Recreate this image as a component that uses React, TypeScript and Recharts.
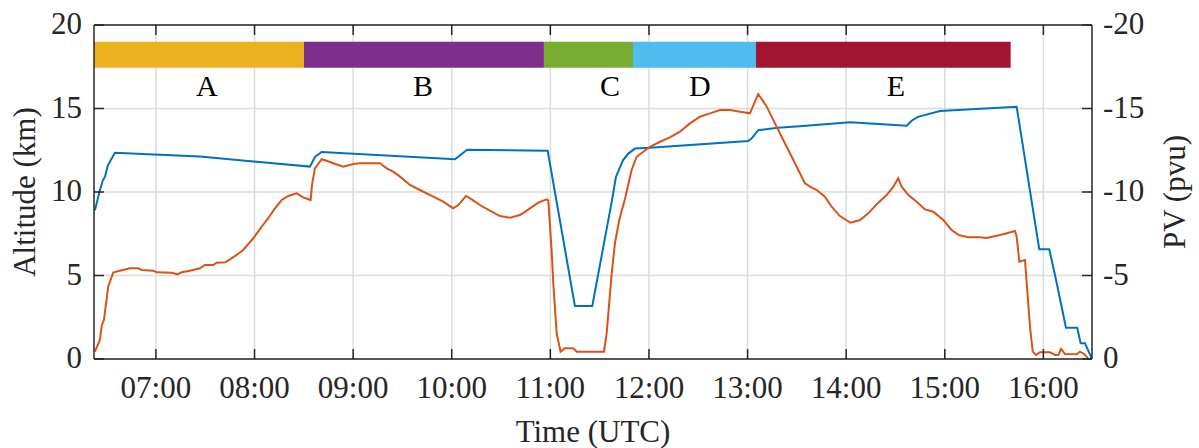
import React from "react";
import {
  LineChart,
  Line,
  XAxis,
  YAxis,
  CartesianGrid,
  ReferenceArea,
  ReferenceDot,
} from "recharts";

// altitude track: time in decimal hours (UTC), altitude in km
const altTime = [
  6.381, 6.432, 6.462, 6.483, 6.513, 6.584, 7.446, 8.562, 8.613, 8.681, 10.032,
  10.157, 10.973, 11.249, 11.425, 11.625, 11.665, 11.736, 11.79, 11.858, 12.01,
  13.007, 13.04, 13.108, 13.308, 13.562, 14.039, 14.614, 14.664, 14.728,
  14.951, 15.729, 15.958, 16.059, 16.118, 16.185, 16.229, 16.343, 16.378,
  16.422, 16.49,
];
const altKm = [
  8.9, 10.1, 10.7, 10.9, 11.6, 12.35, 12.12, 11.52, 12.1, 12.4, 11.96, 12.53,
  12.47, 3.17, 3.17, 9.5, 10.9, 11.9, 12.3, 12.6, 12.65, 13.05, 13.2, 13.7,
  13.85, 13.95, 14.17, 13.97, 14.27, 14.5, 14.85, 15.1, 6.57, 6.57, 5.03, 3.13,
  1.87, 1.87, 0.94, 0.94, 0.04,
];

// potential vorticity along the track (pvu)
const pvTime = [
  6.381, 6.432, 6.452, 6.473, 6.516, 6.567, 6.635, 6.736, 6.82, 6.855, 6.973,
  7.007, 7.159, 7.216, 7.261, 7.345, 7.446, 7.497, 7.581, 7.616, 7.7, 7.751,
  7.818, 7.885, 7.987, 8.072, 8.139, 8.207, 8.275, 8.342, 8.427, 8.494, 8.569,
  8.585, 8.613, 8.681, 8.731, 8.798, 8.9, 9.001, 9.069, 9.272, 9.34, 9.407,
  9.475, 9.576, 9.677, 9.812, 9.914, 10.015, 10.066, 10.144, 10.202, 10.286,
  10.387, 10.489, 10.59, 10.692, 10.793, 10.877, 10.962, 10.979, 11.013,
  11.03, 11.064, 11.104, 11.148, 11.232, 11.267, 11.544, 11.571, 11.622,
  11.655, 11.699, 11.757, 11.824, 11.875, 11.942, 12.01, 12.112, 12.213,
  12.314, 12.416, 12.517, 12.619, 12.72, 12.822, 12.923, 13.024, 13.108,
  13.194, 13.278, 13.396, 13.464, 13.531, 13.582, 13.633, 13.701, 13.785,
  13.853, 13.937, 14.046, 14.14, 14.224, 14.326, 14.411, 14.478, 14.528,
  14.563, 14.63, 14.715, 14.799, 14.883, 14.985, 15.07, 15.137, 15.238,
  15.357, 15.425, 15.593, 15.712, 15.729, 15.756, 15.813, 15.831, 15.864,
  15.892, 15.925, 15.966, 16.067, 16.118, 16.151, 16.179, 16.219, 16.338,
  16.371, 16.412, 16.455,
];
const pvValue = [
  -0.44, -1.14, -2.04, -2.34, -4.33, -5.17, -5.29, -5.43, -5.43, -5.33, -5.29,
  -5.19, -5.17, -5.07, -5.19, -5.29, -5.43, -5.63, -5.63, -5.77, -5.79, -5.97,
  -6.23, -6.53, -7.23, -7.92, -8.43, -9.02, -9.52, -9.76, -9.92, -9.68, -9.52,
  -10.52, -11.42, -11.96, -11.87, -11.72, -11.52, -11.68, -11.72, -11.72,
  -11.42, -11.22, -10.92, -10.42, -10.12, -9.72, -9.42, -9.02, -9.22, -9.76,
  -9.56, -9.22, -8.88, -8.56, -8.46, -8.62, -9.02, -9.36, -9.56, -9.5, -6.5,
  -4.53, -1.54, -0.44, -0.64, -0.64, -0.44, -0.44, -1.54, -5.13, -6.93, -8.32,
  -9.6, -11.32, -12.11, -12.41, -12.71, -13.01, -13.27, -13.61, -14.11,
  -14.51, -14.71, -14.91, -14.91, -14.81, -14.71, -15.87, -15.11, -14.11,
  -12.71, -11.92, -11.12, -10.52, -10.32, -10.12, -9.72, -9.12, -8.56, -8.16,
  -8.32, -8.72, -9.36, -9.82, -10.32, -10.82, -10.32, -9.82, -9.42, -8.96,
  -8.82, -8.32, -7.72, -7.43, -7.29, -7.29, -7.25, -7.47, -7.66, -7.32, -5.83,
  -5.93, -4.53, -1.93, -0.44, -0.24, -0.4, -0.4, -0.24, -0.24, -0.6, -0.3,
  -0.28, -0.44, -0.3, -0.04,
];

// flight phases
const phaseNames = ["A", "B", "C", "D", "E"];
const phaseStart = [6.372, 8.501, 10.935, 11.838, 13.085];
const phaseEnd = [8.501, 10.935, 11.838, 13.085, 15.668];
const phaseLabelTime = [7.517, 9.708, 11.604, 12.517, 14.505];

const hourTicks = [7, 8, 9, 10, 11, 12, 13, 14, 15, 16];
const altTicks = [0, 5, 10, 15, 20];
const pvTicks = [0, -5, -10, -15, -20];

const timeDomain: [number, number] = [6.372, 16.493];

const phaseColors = ["#EDB120", "#7E2F8E", "#77AC30", "#4DBEEE", "#A2142F"];
const FONT = "Liberation Serif, serif";
const INK = "#262626";
const TICK_LEN = 10;
const FS = 31;

const txt: React.CSSProperties = { fontFamily: FONT, fontSize: FS, fill: INK };

const altData = altTime.map((t, i) => ({ t, alt: altKm[i] }));
const pvData = pvTime.map((t, i) => ({ t, pv: pvValue[i] }));

const hhmm = (h: number) => `${String(Math.floor(h)).padStart(2, "0")}:00`;

const BottomTick = (p: any) => (
  <g>
    <line x1={p.x} y1={p.y} x2={p.x} y2={p.y - TICK_LEN} stroke={INK} strokeWidth={1.5} />
    <text x={p.x} y={p.y + 39} textAnchor="middle" style={txt}>
      {hhmm(p.payload.value)}
    </text>
  </g>
);

const TopTick = (p: any) => (
  <line x1={p.x} y1={p.y} x2={p.x} y2={p.y + TICK_LEN} stroke={INK} strokeWidth={1.5} />
);

const LeftTick = (p: any) => (
  <g>
    <line x1={p.x} y1={p.y} x2={p.x + TICK_LEN} y2={p.y} stroke={INK} strokeWidth={1.5} />
    <text x={p.x - 12} y={p.y + 9} textAnchor="end" style={txt}>
      {p.payload.value}
    </text>
  </g>
);

const RightTick = (p: any) => (
  <g>
    <line x1={p.x} y1={p.y} x2={p.x - TICK_LEN} y2={p.y} stroke={INK} strokeWidth={1.5} />
    <text x={p.x + 11} y={p.y + 9} textAnchor="start" style={txt}>
      {p.payload.value}
    </text>
  </g>
);

const PhaseLabel = (name: string) => (p: any) => (
  <text x={p.cx} y={p.cy} dy={10} textAnchor="middle" style={{ ...txt, fontSize: 30, fill: "#000" }}>
    {name}
  </text>
);

const App: React.FC = () => {
  return (
    <div style={{ position: "absolute", left: 0, top: 0, fontFamily: FONT }}>
      <LineChart width={1199} height={448} margin={{ top: 0, right: 0, bottom: 0, left: 0 }}>
        <CartesianGrid
          xAxisId="time"
          yAxisId="alt"
          stroke="#dcdcdc"
          strokeWidth={1.5}
          horizontalValues={altTicks}
          verticalValues={hourTicks}
        />
        <XAxis
          xAxisId="top"
          orientation="top"
          type="number"
          dataKey="t"
          domain={timeDomain}
          allowDataOverflow
          ticks={hourTicks}
          interval={0}
          height={25}
          tickSize={0}
          tickMargin={0}
          tickLine={false}
          tick={TopTick}
          axisLine={{ stroke: INK, strokeWidth: 1.5 }}
        />
        <XAxis
          xAxisId="time"
          type="number"
          dataKey="t"
          domain={timeDomain}
          allowDataOverflow
          ticks={hourTicks}
          interval={0}
          height={89}
          tickSize={0}
          tickMargin={0}
          tickLine={false}
          tick={BottomTick}
          axisLine={{ stroke: INK, strokeWidth: 1.5 }}
          label={(props: any) => {
            const vb = props.viewBox || { x: 94, y: 359, width: 998 };
            return (
              <text x={vb.x + vb.width / 2} y={vb.y + 83} textAnchor="middle" style={txt}>
                Time (UTC)
              </text>
            );
          }}
        />
        <YAxis
          yAxisId="alt"
          orientation="left"
          type="number"
          domain={[0, 20]}
          ticks={altTicks}
          interval={0}
          width={94}
          tickSize={0}
          tickMargin={0}
          tickLine={false}
          tick={LeftTick}
          axisLine={{ stroke: INK, strokeWidth: 1.5 }}
          label={(props: any) => {
            const vb = props.viewBox || { x: 0, y: 25, height: 334 };
            const cx = vb.x + 35;
            const cy = vb.y + vb.height / 2;
            return (
              <text x={cx} y={cy} transform={`rotate(-90, ${cx}, ${cy})`} textAnchor="middle" style={txt}>
                Altitude (km)
              </text>
            );
          }}
        />
        <YAxis
          yAxisId="pv"
          orientation="right"
          type="number"
          domain={[-20, 0]}
          reversed
          ticks={pvTicks}
          interval={0}
          width={107}
          tickSize={0}
          tickMargin={0}
          tickLine={false}
          tick={RightTick}
          axisLine={{ stroke: INK, strokeWidth: 1.5 }}
          label={(props: any) => {
            const vb = props.viewBox || { x: 1092, y: 25, height: 334 };
            const cx = vb.x + 93;
            const cy = vb.y + vb.height / 2;
            return (
              <text x={cx} y={cy} transform={`rotate(-90, ${cx}, ${cy})`} textAnchor="middle" style={txt}>
                PV (pvu)
              </text>
            );
          }}
        />

        {phaseNames.map((name, i) => (
          <ReferenceArea
            key={`bar-${name}`}
            xAxisId="time"
            yAxisId="alt"
            x1={phaseStart[i]}
            x2={phaseEnd[i]}
            y1={17.44}
            y2={19.0}
            fill={phaseColors[i]}
            fillOpacity={1}
            stroke="none"
          />
        ))}
        {phaseNames.map((name, i) => (
          <ReferenceDot
            key={`lbl-${name}`}
            xAxisId="time"
            yAxisId="alt"
            x={phaseLabelTime[i]}
            y={16.35}
            r={0}
            shape={PhaseLabel(name)}
          />
        ))}

        <Line
          data={altData}
          xAxisId="time"
          yAxisId="alt"
          dataKey="alt"
          type="linear"
          stroke="#0072BD"
          strokeWidth={2}
          dot={false}
          isAnimationActive={false}
        />
        <Line
          data={pvData}
          xAxisId="time"
          yAxisId="pv"
          dataKey="pv"
          type="linear"
          stroke="#D95319"
          strokeWidth={2}
          dot={false}
          isAnimationActive={false}
        />
      </LineChart>
    </div>
  );
};

export default App;
